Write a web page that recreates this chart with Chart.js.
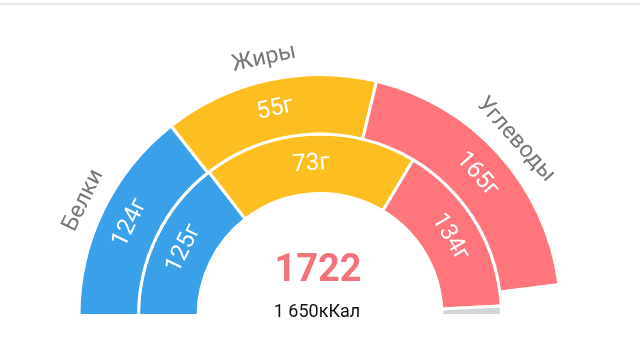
<!DOCTYPE html>
<html>
<head>
<meta charset="utf-8">
<script src="https://cdn.jsdelivr.net/npm/chart.js@4.4.1/dist/chart.umd.min.js"></script>
<style>
html,body{margin:0;padding:0;background:#fff;}
#wrap{position:relative;width:640px;height:360px;}
#topline{position:absolute;left:0;top:3px;width:640px;height:2px;background:#e8e8e8;}
canvas{position:absolute;left:0;top:0;}
</style>
</head>
<body>
<div id="wrap">
<div id="topline"></div>
<canvas id="c" width="640" height="360"></canvas>
</div>
<script>
// Categories
const categories = ['Белки', 'Жиры', 'Углеводы'];
// Outer ring (eaten): grams labels and kcal sizes
const outerGrams = ['124г', '55г', '165г'];
const outerKcal = [496, 495, 660];
const outerRest = 71;          // unfilled part of the goal (transparent)
// Inner ring (plan): grams labels and kcal sizes
const innerGrams = ['125г', '73г', '134г'];
const innerKcal = [500, 657, 536];
const innerRest = 29;          // remaining part (gray)
// Centre texts
const totalGoal = '1722';
const eatenText = '1 650кКал';

const colors = ['#3aa0e9', '#fdbe22', '#fe767b'];
const restColor = '#d3d5d9';

const labelPlugin = {
  id: 'arcLabels',
  afterDatasetsDraw(chart) {
    const ctx = chart.ctx;
    const drawRot = (text, x, y, ang, font, color) => {
      ctx.save();
      ctx.translate(x, y);
      ctx.rotate(ang + Math.PI / 2);
      ctx.font = font;
      ctx.fillStyle = color;
      ctx.textAlign = 'center';
      ctx.textBaseline = 'middle';
      ctx.fillText(text, 0, 0);
      ctx.restore();
    };
    const sets = [outerGrams, innerGrams];
    sets.forEach((labels, di) => {
      const meta = chart.getDatasetMeta(di);
      labels.forEach((t, i) => {
        const a = meta.data[i];
        const mid = (a.startAngle + a.endAngle) / 2;
        const r = (a.innerRadius + a.outerRadius) / 2;
        drawRot(t, a.x + Math.cos(mid) * r, a.y + Math.sin(mid) * r, mid,
          '24px Roboto, sans-serif', '#ffffff');
      });
    });
    const m0 = chart.getDatasetMeta(0);
    categories.forEach((t, i) => {
      const a = m0.data[i];
      const mid = (a.startAngle + a.endAngle) / 2;
      const r = a.outerRadius + 22;
      drawRot(t, a.x + Math.cos(mid) * r, a.y + Math.sin(mid) * r, mid,
        '23px Roboto, sans-serif', '#777777');
    });
    const a0 = m0.data[0];
    ctx.save();
    ctx.textAlign = 'center';
    ctx.textBaseline = 'alphabetic';
    ctx.fillStyle = '#f4737a';
    ctx.font = 'bold 38px Roboto, sans-serif';
    ctx.fillText(totalGoal, a0.x - 2, a0.y - 35);
    ctx.fillStyle = '#111111';
    ctx.font = '18px Roboto, sans-serif';
    ctx.fillText(eatenText, a0.x - 3, a0.y + 1);
    ctx.restore();
  }
};

new Chart(document.getElementById('c'), {
  type: 'doughnut',
  data: {
    labels: categories.concat(['']),
    datasets: [
      {
        data: outerKcal.concat([outerRest]),
        backgroundColor: colors.concat(['rgba(0,0,0,0)']),
        borderColor: ['#fff', '#fff', '#fff', 'rgba(0,0,0,0)'],
        borderWidth: 3
      },
      {
        data: innerKcal.concat([innerRest]),
        backgroundColor: colors.concat([restColor]),
        borderColor: '#fff',
        borderWidth: 3
      }
    ]
  },
  options: {
    responsive: false,
    animation: false,
    rotation: -90,
    circumference: 180,
    radius: 241,
    cutout: '50.6%',
    layout: { padding: { left: 80, right: 80, top: 75, bottom: 45 } },
    plugins: { legend: { display: false }, tooltip: { enabled: false } }
  },
  plugins: [labelPlugin]
});
</script>
</body>
</html>
